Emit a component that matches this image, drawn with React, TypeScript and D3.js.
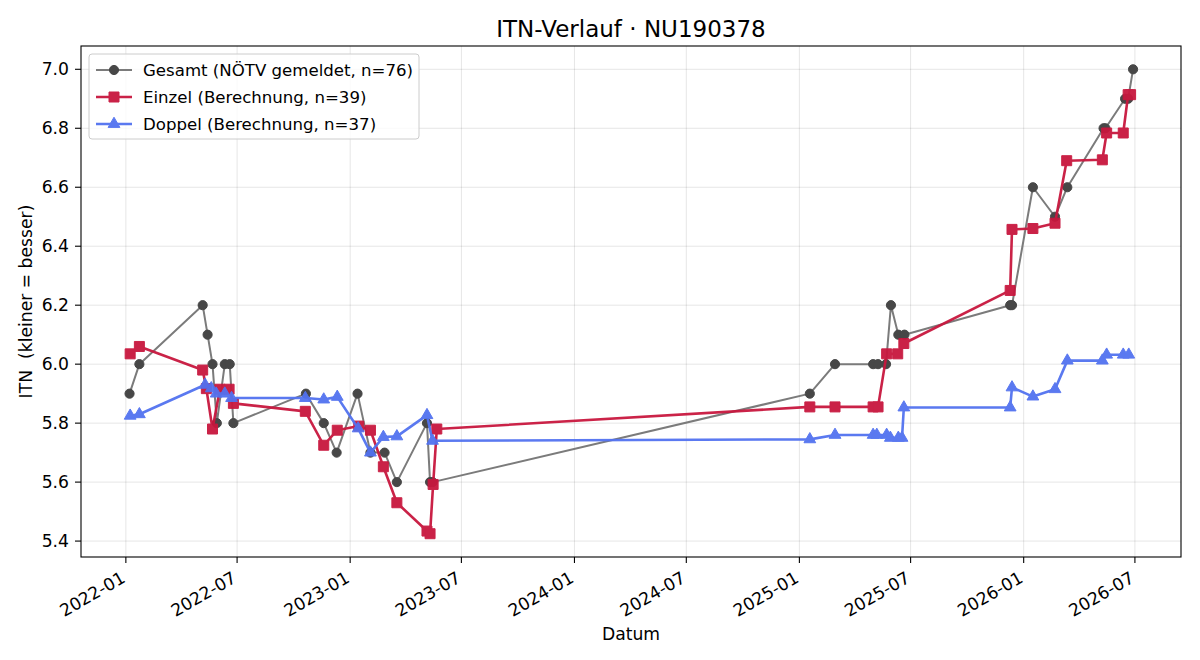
import React from "react";
import * as d3 from "d3";

// Gesamt-ITN laut NÖTV-Meldung
const gesamtDates = [
  "2022-01-07", "2022-01-23", "2022-05-06", "2022-05-14", "2022-05-22", "2022-05-29",
  "2022-06-11", "2022-06-19", "2022-06-25", "2022-10-21", "2022-11-19", "2022-12-10",
  "2023-01-13", "2023-02-03", "2023-02-26", "2023-03-18", "2023-05-06", "2023-05-11",
  "2023-05-15", "2025-01-18", "2025-02-28", "2025-05-01", "2025-05-09", "2025-05-22",
  "2025-05-30", "2025-06-11", "2025-06-21", "2025-12-10", "2025-12-13", "2026-01-16",
  "2026-02-21", "2026-03-13", "2026-05-11", "2026-05-14", "2026-06-15", "2026-06-20",
  "2026-06-28",
];
const gesamtValues = [
  5.9, 6.0, 6.2, 6.1, 6.0, 5.8,
  6.0, 6.0, 5.8, 5.9, 5.8, 5.7,
  5.9, 5.7, 5.7, 5.6, 5.8, 5.6,
  5.6, 5.9, 6.0, 6.0, 6.0, 6.0,
  6.2, 6.1, 6.1, 6.2, 6.2, 6.6,
  6.5, 6.6, 6.8, 6.8, 6.9, 6.9,
  7.0,
];

// Einzel-ITN (berechnet)
const einzelDates = [
  "2022-01-08", "2022-01-23", "2022-05-06", "2022-05-12", "2022-05-22", "2022-06-03",
  "2022-06-18", "2022-06-25", "2022-10-20", "2022-11-19", "2022-12-11", "2023-01-15",
  "2023-02-03", "2023-02-24", "2023-03-18", "2023-05-06", "2023-05-11", "2023-05-16",
  "2023-05-22", "2025-01-18", "2025-02-28", "2025-05-01", "2025-05-09", "2025-05-23",
  "2025-06-10", "2025-06-20", "2025-12-10", "2025-12-13", "2026-01-16", "2026-02-21",
  "2026-03-12", "2026-05-09", "2026-05-16", "2026-06-12", "2026-06-20", "2026-06-24",
];
const einzelValues = [
  6.035, 6.06, 5.98, 5.917, 5.78, 5.915,
  5.915, 5.867, 5.84, 5.725, 5.776, 5.79,
  5.776, 5.652, 5.53, 5.434, 5.425, 5.592,
  5.78, 5.855, 5.855, 5.855, 5.855, 6.035,
  6.035, 6.07, 6.25, 6.457, 6.46, 6.478,
  6.69, 6.693, 6.784, 6.784, 6.914, 6.914,
];

// Doppel-ITN (berechnet)
const doppelDates = [
  "2022-01-08", "2022-01-23", "2022-05-10", "2022-05-20", "2022-05-28", "2022-06-11",
  "2022-06-22", "2022-10-20", "2022-11-19", "2022-12-11", "2023-01-14", "2023-02-03",
  "2023-02-24", "2023-03-18", "2023-05-06", "2023-05-15", "2025-01-18", "2025-02-28",
  "2025-05-01", "2025-05-07", "2025-05-23", "2025-05-29", "2025-06-11", "2025-06-17",
  "2025-06-20", "2025-12-10", "2025-12-13", "2026-01-16", "2026-02-21", "2026-03-13",
  "2026-05-09", "2026-05-16", "2026-06-12", "2026-06-21",
];
const doppelValues = [
  5.825, 5.83, 5.93, 5.918, 5.9, 5.9,
  5.885, 5.885, 5.88, 5.889, 5.782, 5.7,
  5.753, 5.755, 5.827, 5.74, 5.745, 5.76,
  5.76, 5.76, 5.76, 5.75, 5.75, 5.75,
  5.853, 5.853, 5.921, 5.89, 5.915, 6.012,
  6.012, 6.032, 6.032, 6.032,
];

const width = 1200;
const height = 660;
const margin = { top: 46, right: 19, bottom: 103, left: 81 };
const font = "'DejaVu Sans', sans-serif";
const fs = 17.2;
const legendFs = 16.6;

const parse = d3.utcParse("%Y-%m-%d");

type Pt = { date: Date; value: number };
const toPoints = (dates: string[], values: number[]): Pt[] =>
  dates.map((d, i) => ({ date: parse(d) as Date, value: values[i] }));

const series = [
  {
    label: "Gesamt (NÖTV gemeldet, n=76)",
    points: toPoints(gesamtDates, gesamtValues),
    line: "#7b7b7b",
    fill: "#474747",
    lineWidth: 2,
    symbol: d3.symbolCircle,
    size: 66,
    opacity: 1,
  },
  {
    label: "Einzel (Berechnung, n=39)",
    points: toPoints(einzelDates, einzelValues),
    line: "#c8173e",
    fill: "#c8173e",
    lineWidth: 2.6,
    symbol: d3.symbolSquare,
    size: 100,
    opacity: 0.95,
  },
  {
    label: "Doppel (Berechnung, n=37)",
    points: toPoints(doppelDates, doppelValues),
    line: "#5272f0",
    fill: "#5272f0",
    lineWidth: 2.6,
    symbol: d3.symbolTriangle,
    size: 60,
    opacity: 0.95,
  },
];

export default function App() {
  const innerW = width - margin.left - margin.right;
  const innerH = height - margin.top - margin.bottom;

  const x = d3
    .scaleUtc()
    .domain([parse("2021-10-20") as Date, parse("2026-09-14") as Date])
    .range([0, innerW]);
  const y = d3.scaleLinear().domain([5.346, 7.079]).range([innerH, 0]);

  const xTicks = x.ticks(d3.utcMonth.every(6) as d3.TimeInterval);
  const yTicks = y.ticks(10);
  const fmtX = d3.utcFormat("%Y-%m");
  const fmtY = d3.format(".1f");

  const line = d3
    .line<Pt>()
    .x((d) => x(d.date))
    .y((d) => y(d.value));

  return (
    <svg
      width={width}
      height={height}
      style={{ position: "absolute", left: 0, top: 0, background: "#fff" }}
      fontFamily={font}
    >
      <text x={margin.left + innerW / 2} y={37} textAnchor="middle" fontSize={23} fill="#000">
        ITN-Verlauf · NU190378
      </text>

      <g transform={`translate(${margin.left},${margin.top})`}>
        {/* Gitter */}
        {xTicks.map((t) => (
          <line key={"gx" + t.getTime()} x1={x(t)} x2={x(t)} y1={0} y2={innerH} stroke="#000" strokeOpacity={0.1} />
        ))}
        {yTicks.map((t) => (
          <line key={"gy" + t} x1={0} x2={innerW} y1={y(t)} y2={y(t)} stroke="#000" strokeOpacity={0.1} />
        ))}

        {/* Verläufe */}
        {series.map((s) => (
          <g key={s.label} opacity={s.opacity}>
            <path d={line(s.points) as string} fill="none" stroke={s.line} strokeWidth={s.lineWidth} strokeLinejoin="round" />
            {s.points.map((p, i) => (
              <path
                key={i}
                d={d3.symbol().type(s.symbol).size(s.size)() as string}
                transform={`translate(${x(p.date)},${y(p.value)})`}
                fill={s.fill}
                stroke={s.fill}
                strokeWidth={1}
              />
            ))}
          </g>
        ))}

        {/* Rahmen */}
        <rect x={0} y={0} width={innerW} height={innerH} fill="none" stroke="#000" strokeWidth={1.1} />

        {/* x-Achse */}
        {xTicks.map((t) => (
          <g key={"tx" + t.getTime()} transform={`translate(${x(t)},${innerH})`}>
            <line y1={0} y2={6} stroke="#000" strokeWidth={1.1} />
            <text
              transform="translate(-2,20) rotate(-30)"
              textAnchor="end"
              dominantBaseline="middle"
              fontSize={fs}
              fill="#000"
            >
              {fmtX(t)}
            </text>
          </g>
        ))}
        <text x={innerW / 2} y={innerH + 83} textAnchor="middle" fontSize={fs} fill="#000">
          Datum
        </text>

        {/* y-Achse */}
        {yTicks.map((t) => (
          <g key={"ty" + t} transform={`translate(0,${y(t)})`}>
            <line x1={-6} x2={0} stroke="#000" strokeWidth={1.1} />
            <text x={-12} textAnchor="end" dominantBaseline="central" fontSize={fs} fill="#000">
              {fmtY(t)}
            </text>
          </g>
        ))}
        <text
          transform={`translate(-49,${innerH / 2}) rotate(-90)`}
          textAnchor="middle"
          fontSize={fs}
          fill="#000"
          style={{ whiteSpace: "pre" }}
        >
          {"ITN  (kleiner = besser)"}
        </text>

        {/* Legende */}
        <g transform="translate(8,8)">
          <rect x={0} y={0} width={330} height={85} rx={3} fill="#fff" fillOpacity={0.8} stroke="#ccc" />
          {series.map((s, i) => (
            <g key={"lg" + i} transform={`translate(0,${16 + i * 27})`}>
              <g opacity={s.opacity}>
                <line x1={7} x2={43} stroke={s.line} strokeWidth={s.lineWidth} />
                <path
                  d={d3.symbol().type(s.symbol).size(s.size)() as string}
                  transform="translate(25,0)"
                  fill={s.fill}
                  stroke={s.fill}
                />
              </g>
              <text x={54} dominantBaseline="central" fontSize={legendFs} fill="#000">
                {s.label}
              </text>
            </g>
          ))}
        </g>
      </g>
    </svg>
  );
}
